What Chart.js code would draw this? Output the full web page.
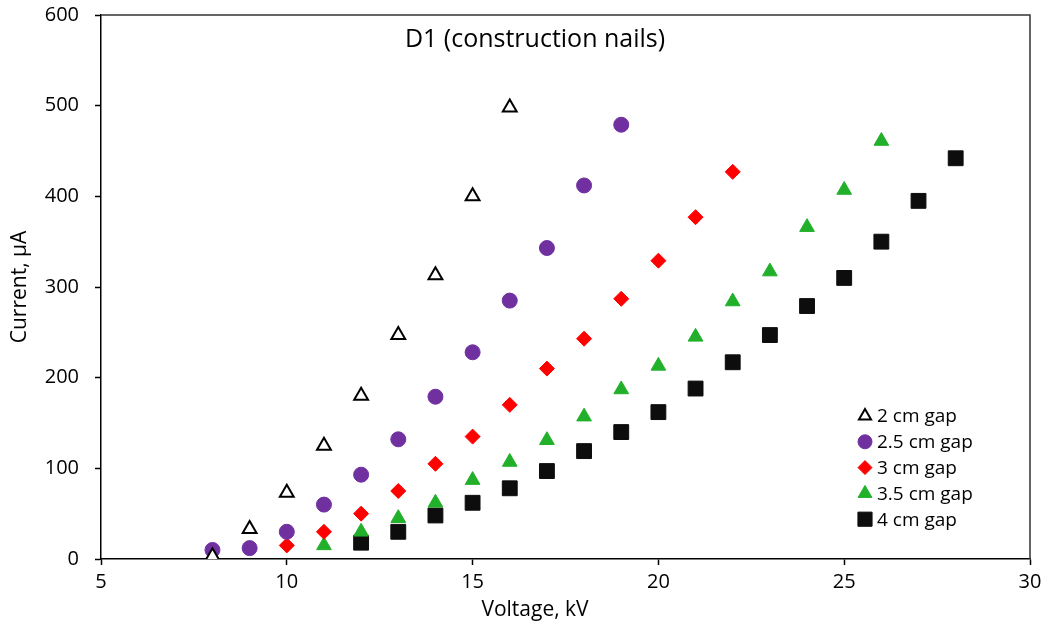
<!DOCTYPE html>
<html>
<head>
<meta charset="utf-8">
<script src="https://cdn.jsdelivr.net/npm/chart.js@4/dist/chart.umd.min.js"></script>
<style>
  html, body { margin: 0; padding: 0; background: #fff; }
  #wrap { width: 1049px; height: 638px; }
</style>
</head>
<body>
<div id="wrap"><canvas id="chart" width="1049" height="638"></canvas></div>
<script>
// values (voltage kV -> current uA)
var GAP2_V = [8, 9, 10, 11, 12, 13, 14, 15, 16];
var GAP2_I = [3, 33, 73, 125, 180, 247, 313, 400, 498];

var GAP25_V = [8, 9, 10, 11, 12, 13, 14, 15, 16, 17, 18, 19];
var GAP25_I = [10, 12, 30, 60, 93, 132, 179, 228, 285, 343, 412, 479];

var GAP3_V = [10, 11, 12, 13, 14, 15, 16, 17, 18, 19, 20, 21, 22];
var GAP3_I = [15, 30, 50, 75, 105, 135, 170, 210, 243, 287, 329, 377, 427];

var GAP35_V = [11, 12, 13, 14, 15, 16, 17, 18, 19, 20, 21, 22, 23, 24, 25, 26];
var GAP35_I = [15, 30, 45, 62, 87, 107, 131, 157, 187, 213, 245, 284, 317, 366, 407, 461];

var GAP4_V = [12, 13, 14, 15, 16, 17, 18, 19, 20, 21, 22, 23, 24, 25, 26, 27, 28];
var GAP4_I = [18, 30, 48, 62, 78, 97, 119, 140, 162, 188, 217, 247, 279, 310, 350, 395, 442];

var SERIES_NAMES = ["2 cm gap", "2.5 cm gap", "3 cm gap", "3.5 cm gap", "4 cm gap"];
var X_TICKS = [5, 10, 15, 20, 25, 30];
var Y_TICKS = [0, 100, 200, 300, 400, 500, 600];

var FONT = "'Open Sans', 'Noto Sans', sans-serif";

function toPoints(xs, ys) {
    var pts = [];
    for (var i = 0; i < xs.length; i++)
        pts.push({ x: xs[i], y: ys[i] });
    return pts;
}

// chart title and x axis title (both sit left of the plot centre in the
// original), plus a border round the plot area
var framePlugin = {
    id: "frame",
    afterDraw: function (chart) {
        var ctx = chart.ctx;
        var a = chart.chartArea;
        ctx.save();
        ctx.strokeStyle = "#333";
        ctx.lineWidth = 1.5;
        ctx.beginPath();
        ctx.moveTo(a.left, a.top);
        ctx.lineTo(a.right, a.top);
        ctx.lineTo(a.right, a.bottom);
        ctx.stroke();

        ctx.fillStyle = "#000";
        ctx.textAlign = "center";
        ctx.textBaseline = "middle";
        ctx.font = "25px " + FONT;
        ctx.fillText("D1 (construction nails)", 535, 40);
        ctx.font = "21px " + FONT;
        ctx.fillText("Voltage, kV", 535, 610);
        ctx.restore();
    }
};

// legend drawn in the lower right corner of the plot area
var legendPlugin = {
    id: "boxLegend",
    afterDraw: function (chart) {
        var ctx = chart.ctx;
        var x0 = 865, y0 = 416, step = 25.8;
        ctx.save();
        chart.data.datasets.forEach(function (ds, i) {
            var y = y0 + i * step;
            var opts = {
                pointStyle: ds.pointStyle,
                radius: ds.legendRadius,
                borderWidth: ds.pointBorderWidth
            };
            ctx.fillStyle = ds.pointBackgroundColor;
            ctx.strokeStyle = ds.pointBorderColor;
            ctx.lineWidth = ds.pointBorderWidth;
            Chart.helpers.drawPoint(ctx, opts, x0, y);
            ctx.fillStyle = "#000";
            ctx.font = "19px " + FONT;
            ctx.textAlign = "left";
            ctx.textBaseline = "middle";
            ctx.fillText(ds.label, x0 + 12, y + 1);
        });
        ctx.restore();
    }
};

function initChart() {
    new Chart(document.getElementById("chart"), {
        type: "scatter",
        data: {
            datasets: [
                {
                    label: SERIES_NAMES[0],
                    data: toPoints(GAP2_V, GAP2_I),
                    pointStyle: "triangle",
                    pointRadius: 8,
                    legendRadius: 7,
                    pointBackgroundColor: "#ffffff",
                    pointBorderColor: "#000000",
                    pointBorderWidth: 2
                },
                {
                    label: SERIES_NAMES[1],
                    data: toPoints(GAP25_V, GAP25_I),
                    pointStyle: "circle",
                    pointRadius: 7.5,
                    legendRadius: 7,
                    pointBackgroundColor: "#7030A0",
                    pointBorderColor: "#7030A0",
                    pointBorderWidth: 1
                },
                {
                    label: SERIES_NAMES[2],
                    data: toPoints(GAP3_V, GAP3_I),
                    pointStyle: "rectRot",
                    pointRadius: 7.5,
                    legendRadius: 7,
                    pointBackgroundColor: "#FF0000",
                    pointBorderColor: "#FF0000",
                    pointBorderWidth: 1
                },
                {
                    label: SERIES_NAMES[3],
                    data: toPoints(GAP35_V, GAP35_I),
                    pointStyle: "triangle",
                    pointRadius: 8.5,
                    legendRadius: 8,
                    pointBackgroundColor: "#22B02A",
                    pointBorderColor: "#22B02A",
                    pointBorderWidth: 1
                },
                {
                    label: SERIES_NAMES[4],
                    data: toPoints(GAP4_V, GAP4_I),
                    pointStyle: "rect",
                    pointRadius: 10.5,
                    legendRadius: 10,
                    pointBackgroundColor: "#0D0D0D",
                    pointBorderColor: "#0D0D0D",
                    pointBorderWidth: 1
                }
            ]
        },
        options: {
            responsive: false,
            animation: false,
            layout: { padding: { left: 0, right: 19, top: 15, bottom: 0 } },
            plugins: {
                legend: { display: false },
                tooltip: { enabled: false }
            },
            scales: {
                x: {
                    type: "linear",
                    min: 5,
                    max: 30,
                    afterBuildTicks: function (scale) {
                        scale.ticks = X_TICKS.map(function (v) { return { value: v }; });
                    },
                    afterFit: function (scale) {
                        scale.height = 79;
                        scale.paddingLeft = 0;
                        scale.paddingRight = 0;
                    },
                    grid: { drawOnChartArea: false, tickLength: 6, tickColor: "#000", tickWidth: 1.5 },
                    border: { color: "#000", width: 1.5 },
                    ticks: { color: "#000", padding: 5, font: { family: FONT, size: 20 } },
                    title: { display: false }
                },
                y: {
                    min: 0,
                    max: 600,
                    afterBuildTicks: function (scale) {
                        scale.ticks = Y_TICKS.map(function (v) { return { value: v }; });
                    },
                    afterFit: function (scale) {
                        scale.width = 101;
                        scale.paddingTop = 0;
                        scale.paddingBottom = 0;
                    },
                    grid: { drawOnChartArea: false, tickLength: 6, tickColor: "#000", tickWidth: 1.5 },
                    border: { color: "#000", width: 1.5 },
                    ticks: { color: "#000", padding: 16, font: { family: FONT, size: 20 } },
                    title: {
                        display: true,
                        text: "Current, \u00b5A",
                        color: "#000",
                        padding: { top: 7, bottom: 0 },
                        font: { family: FONT, size: 21 }
                    }
                }
            }
        },
        plugins: [framePlugin, legendPlugin]
    });
}

initChart();
</script>
</body>
</html>
